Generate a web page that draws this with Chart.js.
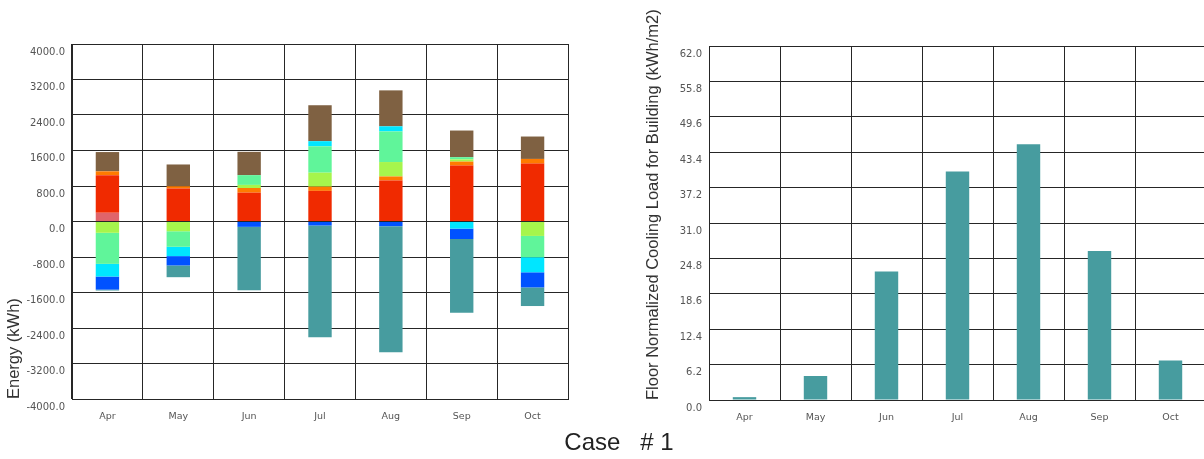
<!DOCTYPE html>
<html>
<head>
<meta charset="utf-8">
<script src="https://cdn.jsdelivr.net/npm/chart.js@4/dist/chart.umd.min.js"></script>
<style>
  html, body {
    margin: 0;
    padding: 0;
    background: #fff;
    overflow: hidden;
  }
  #page {
    position: relative;
    width: 1204px;
    height: 459px;
  }
  #energyWrap {
    position: absolute;
    left: 0;
    top: 0;
    width: 580px;
    height: 430px;
  }
  #coolingWrap {
    position: absolute;
    left: 639px;
    top: 0;
    width: 575px;
    height: 431px;
  }
  #caseLabel {
    position: absolute;
    left: 0;
    width: 1238px;
    top: 428px;
    text-align: center;
    font-family: "Liberation Sans", Arial, sans-serif;
    font-size: 24px;
    color: #222;
    white-space: pre;
  }
</style>
</head>
<body>
<div id="page">
  <div id="energyWrap"><canvas id="energyChart"></canvas></div>
  <div id="coolingWrap"><canvas id="coolingChart"></canvas></div>
  <div id="caseLabel">Case   # 1</div>
</div>
<script>
const monthLabels = ["Apr", "May", "Jun", "Jul", "Aug", "Sep", "Oct"];

// energy balance components (kWh), positive = gain, negative = loss
const pinkValues = [195, 0, 0, 0, 0, 0, 0];
const redValues = [850, 745, 650, 690, 925, 1260, 1305];
const orangeValues = [85, 50, 105, 95, 90, 90, 105];
const yellowGreenValues = [-255, -220, 70, 315, 325, 50, -325];
const mintValues = [-700, -350, 220, 595, 690, 50, -480];
const cyanValues = [-285, -210, 0, 115, 115, -160, -340];
const blueValues = [-295, -210, -120, -90, -105, -235, -340];
const tealValues = [-20, -265, -1430, -2520, -2840, -1660, -420];
const brownValues = [435, 490, 525, 810, 810, 600, 505];

const energyTicks = { min: -4000, max: 4000, step: 800 };

// floor normalized cooling load (kWh/m2)
const coolingValues = [0.5, 4.2, 22.5, 40.0, 44.8, 26.1, 6.9];
const coolingTicks = { min: 0, max: 62, step: 6.2 };

const gridColor = "#262626";
const tickFont = { family: "'DejaVu Sans', Verdana, sans-serif", size: 10 };
const titleFont = { family: "'Liberation Sans', Arial, sans-serif", size: 16.5 };

function barSet(label, data, color) {
  return {
    label: label,
    data: data,
    backgroundColor: color,
    borderWidth: 0,
    barPercentage: 0.33,
    categoryPercentage: 1,
  };
}

function xAxis(height) {
  return {
    stacked: true,
    grid: {
      color: gridColor,
      drawTicks: false,
    },
    border: { color: gridColor },
    ticks: {
      color: "#555",
      font: { family: tickFont.family, size: 9.5 },
      padding: 12,
      maxRotation: 0,
    },
    afterFit: function (scale) {
      scale.height = height;
    },
  };
}

function yAxis(range, title, width) {
  return {
    stacked: true,
    min: range.min,
    max: range.max,
    grid: {
      color: gridColor,
      drawTicks: false,
    },
    border: { color: gridColor },
    ticks: {
      stepSize: range.step,
      color: "#555",
      font: tickFont,
      padding: 7,
      labelOffset: 8,
      callback: function (value) {
        return Number(value).toFixed(1);
      },
    },
    title: {
      display: true,
      text: title,
      align: "start",
      color: "#333",
      font: titleFont,
      padding: { top: 5, bottom: 4 },
    },
    afterFit: function (scale) {
      scale.width = width;
    },
  };
}

function getEnergyChartConfig() {
  return {
    type: "bar",
    data: {
      labels: monthLabels,
      datasets: [
        barSet("Pink", pinkValues, "#e0646a"),
        barSet("Red", redValues, "#f02a00"),
        barSet("Orange", orangeValues, "#ff7b00"),
        barSet("Yellow green", yellowGreenValues, "#a6f54c"),
        barSet("Mint", mintValues, "#60f59a"),
        barSet("Cyan", cyanValues, "#00e6ff"),
        barSet("Blue", blueValues, "#0052ff"),
        barSet("Teal", tealValues, "#479c9f"),
        barSet("Brown", brownValues, "#7f6142"),
      ],
    },
    options: {
      responsive: true,
      maintainAspectRatio: false,
      animation: false,
      layout: {
        padding: { top: 44, right: 12, left: 0, bottom: 0 },
      },
      scales: {
        x: xAxis(31),
        y: yAxis(energyTicks, "Energy (kWh)", 72),
      },
      plugins: {
        legend: { display: false },
        tooltip: { enabled: false },
      },
    },
  };
}

function getCoolingChartConfig() {
  return {
    type: "bar",
    data: {
      labels: monthLabels,
      datasets: [barSet("Cooling load", coolingValues, "#479c9f")],
    },
    options: {
      responsive: true,
      maintainAspectRatio: false,
      animation: false,
      layout: {
        padding: { top: 46, right: 8, left: 0, bottom: 0 },
      },
      scales: {
        x: xAxis(31),
        y: yAxis(coolingTicks, "Floor Normalized Cooling Load for Building (kWh/m2)", 70),
      },
      plugins: {
        legend: { display: false },
        tooltip: { enabled: false },
      },
    },
  };
}

new Chart(document.getElementById("energyChart"), getEnergyChartConfig());
new Chart(document.getElementById("coolingChart"), getCoolingChartConfig());
</script>
</body>
</html>
